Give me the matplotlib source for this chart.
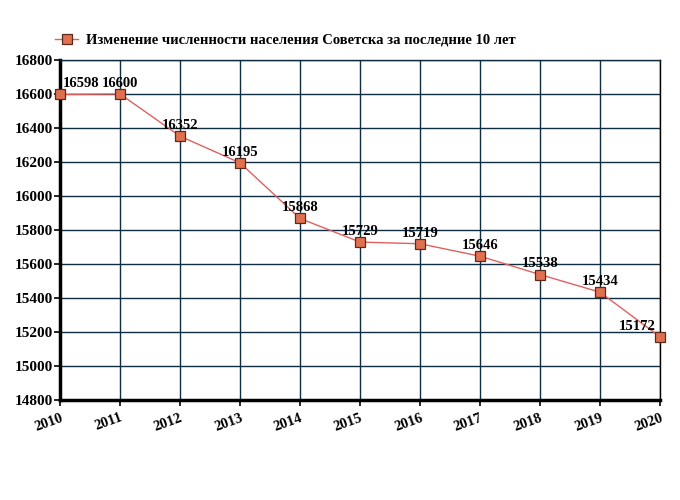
import matplotlib
matplotlib.use("Agg")
import matplotlib.pyplot as plt
from matplotlib.lines import Line2D

years = [2010, 2011, 2012, 2013, 2014, 2015, 2016, 2017, 2018, 2019, 2020]
population = [16598, 16600, 16352, 16195, 15868, 15729, 15719, 15646, 15538, 15434, 15172]
yticks = [14800, 15000, 15200, 15400, 15600, 15800, 16000, 16200, 16400, 16600, 16800]
title = "Изменение численности населения Советска за последние 10 лет"

plt.rcParams['font.family'] = ['Liberation Serif', 'DejaVu Serif']
plt.rcParams['font.weight'] = 'bold'

fig = plt.figure(figsize=(6.8, 5.0), dpi=100)
ax = fig.add_axes([60/680, 0.2, 600/680, 0.68])

grid_color = '#0f2d40'
line_color = '#e06060'
marker_face = '#e07050'
marker_edge = '#5a2a1a'

ax.plot(years, population, color=line_color, lw=1.0, marker='s', ms=7,
        mfc=marker_face, mec=marker_edge, mew=0.9, zorder=3, clip_on=False)

ax.set_xlim(years[0], years[-1])
ax.set_ylim(yticks[0], yticks[-1])
ax.set_xticks(years)
ax.set_yticks(yticks)
ax.set_xticklabels([str(y) for y in years], rotation=20, ha='right',
                   rotation_mode='anchor', fontsize=10.5, fontweight='bold')
ax.set_yticklabels([str(v) for v in yticks], fontsize=11, fontweight='bold')
ax.grid(True, color=grid_color, lw=1.0)
ax.tick_params(axis='both', length=4, width=1.2, color='black')
ax.tick_params(axis='y', pad=1)
ax.tick_params(axis='x', pad=4)

for s in ['left', 'bottom']:
    ax.spines[s].set_linewidth(2.5)
    ax.spines[s].set_color('black')
ax.spines['right'].set_linewidth(1.0)
ax.spines['right'].set_color('black')
ax.spines['top'].set_linewidth(1.0)
ax.spines['top'].set_color(grid_color)

for i, (x, v) in enumerate(zip(years, population)):
    dx = 0
    ha = 'center'
    if i == 0:
        ha = 'left'
        dx = 2
    elif i == len(years) - 1:
        ha = 'right'
        dx = -3
    ax.annotate(str(v), (x, v), xytext=(dx, 3), textcoords='offset points',
                ha=ha, va='bottom', fontsize=10.5, fontweight='bold', zorder=4)

handle = Line2D([0], [0], color=line_color, lw=1.0, marker='s', ms=7,
                mfc=marker_face, mec=marker_edge, mew=0.9)
fig.legend([handle], [title], loc='center left', bbox_to_anchor=(42/680, 1 - 40/500),
           frameon=False, handlelength=1.6, handletextpad=0.5,
           prop={'weight': 'bold', 'size': 10.5})

fig.savefig('out.png', dpi=100, facecolor='white')
